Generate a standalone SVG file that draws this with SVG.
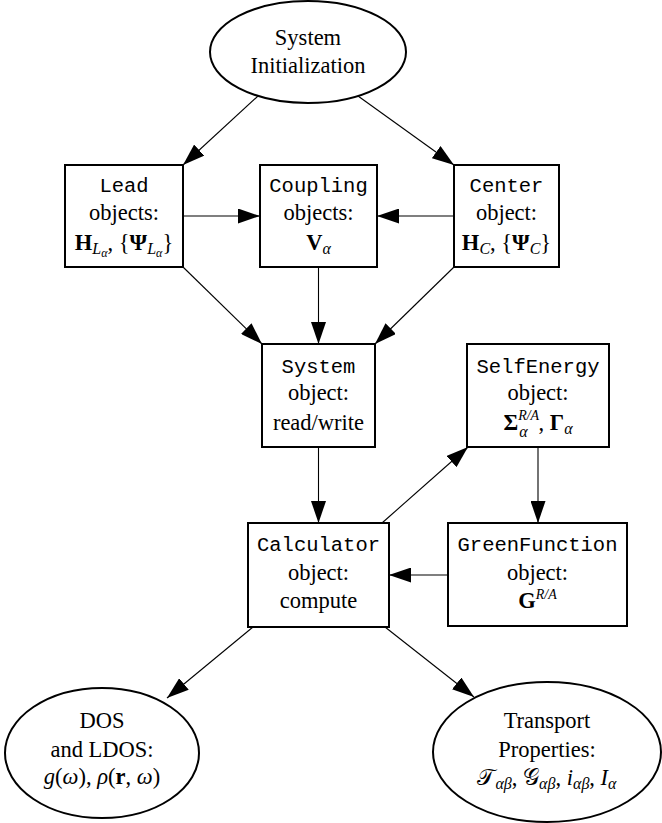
<svg xmlns="http://www.w3.org/2000/svg" width="662" height="823" viewBox="0 0 662 823">
<style>
.box{fill:#fff;stroke:#000;stroke-width:2}
.edge{stroke:#000;stroke-width:1.1;fill:none;marker-end:url(#ah)}
.s{font-family:"Liberation Serif","Times New Roman",serif;font-size:22.5px;text-anchor:middle;fill:#000}
.t{font-family:"Liberation Mono","Courier New",monospace;font-size:20.5px;text-anchor:middle;fill:#000}
.b{font-weight:bold}
.i{font-style:italic}
.sub{font-size:16px;font-style:italic}
.sup{font-size:14px;font-style:italic}
.ss{font-size:12px;font-style:italic}
</style>
<defs>
<marker id="ah" markerUnits="userSpaceOnUse" markerWidth="23" markerHeight="15" refX="22" refY="7.5" orient="auto">
<path d="M0,0 L22,7.5 L0,15 z" fill="#000"/>
</marker>
</defs>
<g id="edges">
<line class="edge" x1="258" y1="96" x2="183" y2="165"/>
<line class="edge" x1="358" y1="96" x2="454" y2="165"/>
<line class="edge" x1="183" y1="216" x2="260" y2="216"/>
<line class="edge" x1="454" y1="216" x2="377" y2="216"/>
<line class="edge" x1="183" y1="267" x2="262" y2="344"/>
<line class="edge" x1="318.5" y1="267" x2="318.5" y2="344"/>
<line class="edge" x1="454" y1="267" x2="375" y2="344"/>
<line class="edge" x1="318.5" y1="447" x2="318.5" y2="523"/>
<line class="edge" x1="382" y1="523" x2="468" y2="447"/>
<line class="edge" x1="538" y1="447" x2="538" y2="523"/>
<line class="edge" x1="448" y1="575" x2="389" y2="575"/>
<line class="edge" x1="253" y1="627" x2="167" y2="698"/>
<line class="edge" x1="385" y1="627" x2="474" y2="697"/>
</g>
<g id="init">
<ellipse class="box" cx="308" cy="52" rx="98" ry="51"/>
<text class="s" x="308" y="45">System</text>
<text class="s" x="308" y="73">Initialization</text>
</g>
<g id="lead">
<rect class="box" x="65" y="165" width="118" height="102"/>
<text class="t" x="124" y="192">Lead</text>
<text class="s" x="124" y="220">objects:</text>
<text class="s" x="124" y="250"><tspan class="b">H</tspan><tspan class="sub" dy="4">L</tspan><tspan class="ss" dy="3">α</tspan><tspan dy="-7">, {</tspan><tspan class="b">Ψ</tspan><tspan class="sub" dy="4">L</tspan><tspan class="ss" dy="3">α</tspan><tspan dy="-7">}</tspan></text>
</g>
<g id="coupling">
<rect class="box" x="260" y="165" width="117" height="102"/>
<text class="t" x="318.5" y="192">Coupling</text>
<text class="s" x="318.5" y="220">objects:</text>
<text class="s" x="318.5" y="250"><tspan class="b">V</tspan><tspan class="sub" dy="4">α</tspan></text>
</g>
<g id="center">
<rect class="box" x="454" y="165" width="105" height="102"/>
<text class="t" x="506.5" y="192">Center</text>
<text class="s" x="506.5" y="220">object:</text>
<text class="s" x="506.5" y="250"><tspan class="b">H</tspan><tspan class="sub" dy="4">C</tspan><tspan dy="-4">, {</tspan><tspan class="b">Ψ</tspan><tspan class="sub" dy="4">C</tspan><tspan dy="-4">}</tspan></text>
</g>
<g id="system">
<rect class="box" x="262" y="344" width="113" height="103"/>
<text class="t" x="318.5" y="373">System</text>
<text class="s" x="318.5" y="400">object:</text>
<text class="s" x="318.5" y="430">read/write</text>
</g>
<g id="selfenergy">
<rect class="box" x="467" y="344" width="142" height="103"/>
<text class="t" x="538" y="373">SelfEnergy</text>
<text class="s" x="538" y="400">object:</text>
<text class="s" x="538" y="430"><tspan class="b">Σ</tspan><tspan class="sup" dy="-10">R/A</tspan><tspan class="sub" dx="-20" dy="17">α</tspan><tspan dx="11" dy="-7">, </tspan><tspan class="b">Γ</tspan><tspan class="sub" dy="4">α</tspan></text>
</g>
<g id="calculator">
<rect class="box" x="248" y="523" width="141" height="104"/>
<text class="t" x="318.5" y="551">Calculator</text>
<text class="s" x="318.5" y="580">object:</text>
<text class="s" x="318.5" y="608">compute</text>
</g>
<g id="greenfunction">
<rect class="box" x="448" y="523" width="179" height="103"/>
<text class="t" x="537.5" y="551">GreenFunction</text>
<text class="s" x="537.5" y="580">object:</text>
<text class="s" x="537.5" y="608"><tspan class="b">G</tspan><tspan class="sup" dy="-9">R/A</tspan></text>
</g>
<g id="dos">
<ellipse class="box" cx="102" cy="753" rx="97" ry="65"/>
<text class="s" x="102" y="728">DOS</text>
<text class="s" x="102" y="757">and LDOS:</text>
<text class="s" x="102" y="784"><tspan class="i">g</tspan>(<tspan class="i">ω</tspan>), <tspan class="i">ρ</tspan>(<tspan class="b">r</tspan>, <tspan class="i">ω</tspan>)</text>
</g>
<g id="transport">
<ellipse class="box" cx="547" cy="752" rx="114" ry="70"/>
<text class="s" x="547" y="728">Transport</text>
<text class="s" x="547" y="757">Properties:</text>
<text class="s" x="547" y="785"><tspan>𝒯</tspan><tspan class="sub" dy="4">αβ</tspan><tspan dy="-4">, 𝒢</tspan><tspan class="sub" dy="4">αβ</tspan><tspan dy="-4">, </tspan><tspan class="i">i</tspan><tspan class="sub" dy="4">αβ</tspan><tspan dy="-4">, </tspan><tspan class="i">I</tspan><tspan class="sub" dy="4">α</tspan></text>
</g>
</svg>
